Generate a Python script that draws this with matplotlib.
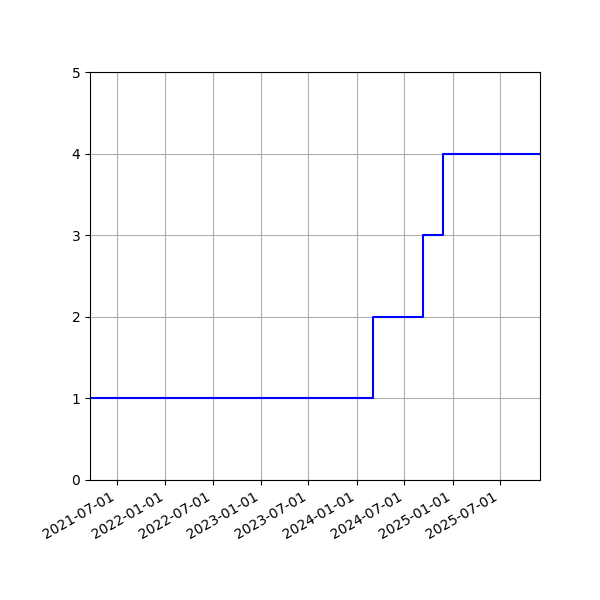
import numpy as np
import matplotlib
matplotlib.use("Agg")
import matplotlib.pyplot as plt
import matplotlib.dates as mdates

dates = np.array(['2021-03-19', '2024-03-03', '2024-09-11', '2024-11-24', '2025-12-01'],
                 dtype='datetime64[D]')
levels = [1, 2, 3, 4, 4]

fig, ax = plt.subplots(figsize=(6, 6), dpi=100)
ax.step(dates, levels, where='post', color='blue')
ax.set_xlim(dates[0], dates[-1])
ax.set_ylim(0, 5)
ax.xaxis.set_major_locator(mdates.MonthLocator(bymonth=[1, 7]))
ax.xaxis.set_major_formatter(mdates.DateFormatter('%Y-%m-%d'))
ax.grid(True)
fig.autofmt_xdate()
fig.subplots_adjust(left=0.15, right=0.9, top=0.88, bottom=0.2)
fig.savefig('out.png')
